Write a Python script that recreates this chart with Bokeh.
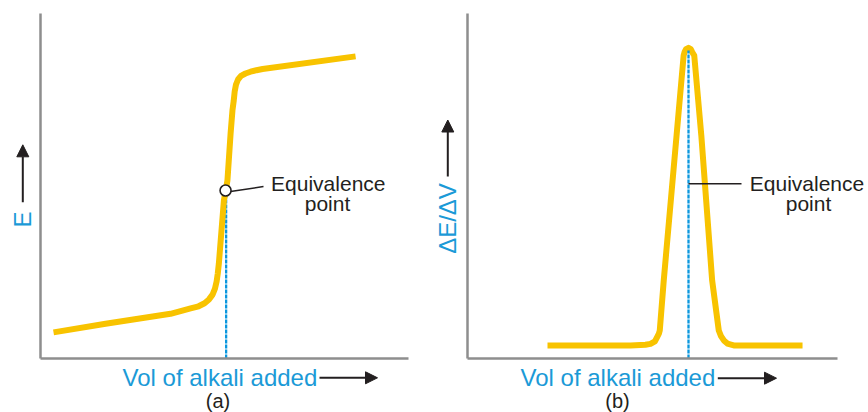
import math
from bokeh.plotting import figure
from bokeh.models import Range1d, LinearAxis, FixedTicker, Label, Arrow, NormalHead
from bokeh.layouts import row
from bokeh.embed import file_html
from bokeh.resources import INLINE

# ---------------- data ----------------
# (a) potentiometric titration curve: E vs volume of alkali
vol_a = [0.70, 3.50, 6.99, 8.07, 8.50, 8.82, 9.06, 9.25, 9.38, 9.47, 9.53, 9.59, 9.86, 9.96, 10.05,
         10.22, 10.32, 10.39, 10.44, 10.51, 10.62, 10.78, 11.02, 11.29, 11.61, 11.94, 16.94]
E_a = [87, 116, 149, 167, 174, 184, 197, 213, 233, 257, 283, 317, 527, 560, 593,
       750, 827, 860, 890, 913, 930, 942, 950, 956, 961, 965, 1007]
eq_vol_a = 9.98
eq_E_a = 560

# (b) first-derivative curve: dE/dV vs volume of alkali
vol_b = [3.62, 7.38, 8.05, 8.28, 8.48, 8.58, 8.66, 8.70, 8.88, 9.46, 9.78, 9.82, 9.89, 10.00,
         10.10, 10.17, 10.26, 10.58, 11.07, 11.37, 11.47, 11.60, 11.76, 12.05, 15.16]
dEdV_b = [4.2, 4.2, 4.4, 4.7, 5.5, 6.9, 8.0, 9.0, 25.1, 71.7, 97.4, 98.5, 99.5, 99.9,
          99.5, 98.5, 97.4, 71.7, 25.1, 9.0, 7.2, 5.8, 4.8, 4.2, 4.2]
eq_vol_b = 10.0
peak_b = 99.0

x_label = "Vol of alkali added"
y_label_a = "E"
y_label_b = "ΔE/ΔV"
eq_label = ["Equivalence", "point"]
panel_tags = ["(a)", "(b)"]

# ---------------- style ----------------
YELLOW = "#F8C300"
BLUE = "#1B9AD7"
DASH_BLUE = "#0A97DE"
AXIS_GRAY = "#8E8E8E"
INK = "#231F20"
FONT = "Liberation Sans"

FIG_W, FIG_H = 434, 412
PAGE_TOP = 0


class Panel:
    """Maps page-pixel layout positions to data coordinates for one panel."""

    def __init__(self, left, ox, oy, kx, ky, x_end_px, y_top_px):
        self.left, self.ox, self.oy, self.kx, self.ky = left, ox, oy, kx, ky
        self.p = figure(
            width=FIG_W, height=FIG_H, output_backend="svg", toolbar_location=None,
            x_axis_location=None, y_axis_location=None, min_border=0,
            x_range=Range1d(self.dx(left), self.dx(left + FIG_W)),
            y_range=Range1d(self.dy(PAGE_TOP + FIG_H), self.dy(PAGE_TOP)),
            outline_line_color=None, background_fill_color="white",
            border_fill_color="white",
        )
        self.p.grid.visible = False
        for loc, bounds in (("below", (0, self.dx(x_end_px))), ("left", (0, self.dy(y_top_px)))):
            ax = LinearAxis(fixed_location=0, bounds=bounds, ticker=FixedTicker(ticks=[]),
                            axis_line_color=AXIS_GRAY, axis_line_width=2.5,
                            major_tick_line_color=None, minor_tick_line_color=None,
                            major_tick_in=0, major_tick_out=0, minor_tick_in=0, minor_tick_out=0,
                            major_label_standoff=0, major_label_text_font_size="0px")
            self.p.add_layout(ax, loc)

    def dx(self, px):
        return (px - self.ox) / self.kx

    def dy(self, py):
        return (self.oy - py) / self.ky

    def text(self, s, px, py, size, color, align="center", angle=0.0):
        # py is the vertical middle of the text line
        self.p.add_layout(Label(x=self.dx(px), y=self.dy(py), text=s, text_font=FONT,
                                text_font_size=size, text_color=color, text_align=align,
                                text_baseline="middle", angle=angle))

    def arrow(self, x0, y0, x1, y1):
        self.p.add_layout(Arrow(end=NormalHead(size=12, fill_color=INK, line_color=INK, line_width=1),
                                x_start=self.dx(x0), y_start=self.dy(y0),
                                x_end=self.dx(x1), y_end=self.dy(y1),
                                line_color=INK, line_width=2))

    def segment(self, x0, y0, x1, y1, width=1.5):
        self.p.line([self.dx(x0), self.dx(x1)], [self.dy(y0), self.dy(y1)],
                    line_color=INK, line_width=width)


# ---------------- panel (a) ----------------
A = Panel(left=0, ox=40, oy=358, kx=18.6, ky=0.3, x_end_px=408, y_top_px=13)
pa = A.p
pa.line([eq_vol_a, eq_vol_a], [0, eq_E_a], line_color=DASH_BLUE, line_width=2.3, line_dash="4 1")
pa.line(vol_a, E_a, line_color=YELLOW, line_width=6, line_join="round")
A.segment(230, 191, 263, 186)
pa.scatter([eq_vol_a - 0.03], [eq_E_a], marker="circle", size=11, fill_color="white",
           line_color=INK, line_width=1.6)
A.text(eq_label[0], 327.8, 182.5, "21px", INK)
A.text(eq_label[1], 327.0, 202.5, "21px", INK)
A.text(x_label, 122, 376.5, "24px", BLUE, align="left")
A.arrow(319, 377.3, 377, 377.3)
A.text(panel_tags[0], 217.5, 400.5, "20px", INK)
A.text(y_label_a, 21.5, 219, "24px", BLUE, angle=math.pi / 2)
A.arrow(22.3, 201.7, 22.3, 144.3)

# ---------------- panel (b) ----------------
B = Panel(left=434, ox=467, oy=358, kx=22.1, ky=3.11, x_end_px=837, y_top_px=13)
pb = B.p
pb.line(vol_b, dEdV_b, line_color=YELLOW, line_width=6, line_join="round")
pb.line([eq_vol_b, eq_vol_b], [0, peak_b], line_color=DASH_BLUE, line_width=2.3, line_dash="4 1")
B.segment(688, 183.3, 741, 183.3)
B.text(eq_label[0], 806.5, 182.5, "21px", INK)
B.text(eq_label[1], 808, 202.5, "21px", INK)
B.text(x_label, 520, 376.5, "24px", BLUE, align="left")
B.arrow(717.3, 377.7, 776, 377.7)
B.text(panel_tags[1], 617, 400.5, "20px", INK)
B.text(y_label_b, 447, 218, "24px", BLUE, angle=math.pi / 2)
B.arrow(447.3, 176, 447.3, 119.5)

layout = row(pa, pb)
open("out.html", "w").write(file_html(layout, INLINE))
